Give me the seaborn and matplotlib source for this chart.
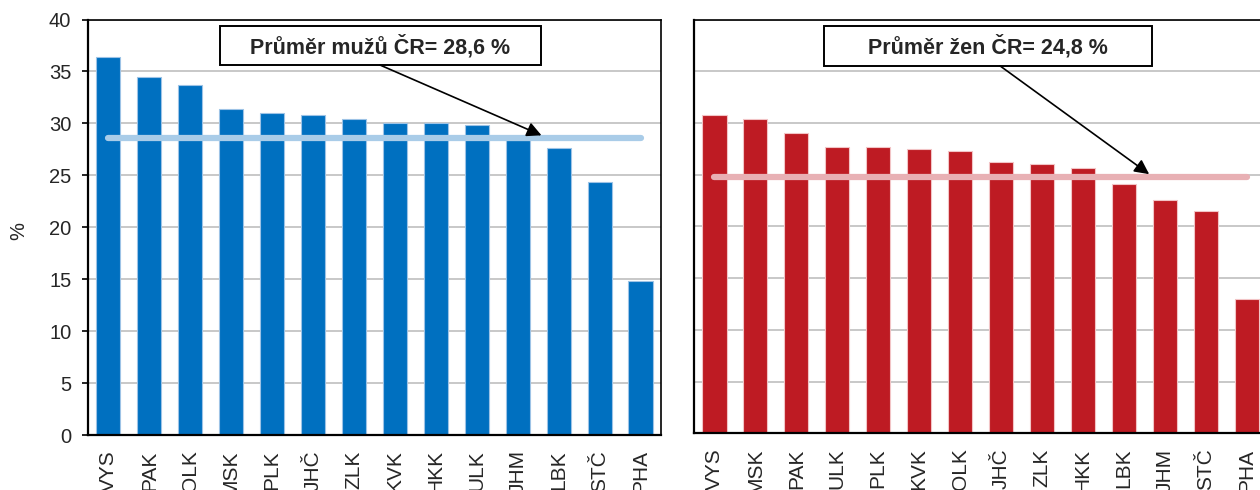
import matplotlib

matplotlib.use("Agg")
import matplotlib.pyplot as plt
import seaborn as sns
from matplotlib.patches import Rectangle

men_regions = ["VYS", "PAK", "OLK", "MSK", "PLK", "JHČ", "ZLK", "KVK", "HKK", "ULK", "JHM", "LBK", "STČ", "PHA"]
men_values = [36.4, 34.5, 33.7, 31.4, 31.0, 30.8, 30.4, 30.0, 30.0, 29.8, 28.4, 27.6, 24.4, 14.8]
men_avg = 28.6

women_regions = ["VYS", "MSK", "PAK", "ULK", "PLK", "KVK", "OLK", "JHČ", "ZLK", "HKK", "LBK", "JHM", "STČ", "PHA"]
women_values = [30.8, 30.4, 29.0, 27.7, 27.7, 27.5, 27.3, 26.2, 26.0, 25.6, 24.1, 22.6, 21.5, 13.0]
women_avg = 24.8

y_ticks = [0, 5, 10, 15, 20, 25, 30, 35, 40]

sns.set_style("white")
plt.rcParams["font.family"] = ["Liberation Sans", "DejaVu Sans"]


def draw_panel(ax, regions, values, avg, bar_color, edge_color, line_color, label, box, arrow_from, arrow_dx, show_y):
    sns.barplot(x=regions, y=values, color=bar_color, saturation=1, width=0.59,
                edgecolor=edge_color, linewidth=0.8, ax=ax)
    ax.set_ylim(0, 40)
    ax.set_yticks(y_ticks)
    ax.set_xlim(-0.5, len(regions) - 0.5)
    ax.set_axisbelow(True)
    ax.yaxis.grid(True, color="#BFBFBF", linewidth=1.2)
    ax.xaxis.grid(False)

    # average line
    ax.hlines(avg, 0, len(regions) - 1, color=line_color, linewidth=4.5,
              capstyle="round", zorder=3)

    # category ticks between bars
    ax.set_xticks([i + 0.5 for i in range(-1, len(regions))], minor=True)
    ax.tick_params(axis="x", which="major", length=0, pad=11, labelsize=15, labelrotation=90)
    ax.tick_params(axis="x", which="minor", length=5, width=1.2, color="black", direction="out")
    if show_y:
        ax.tick_params(axis="y", length=4, width=1.2, color="black", direction="out",
                       pad=8, labelsize=14.5, left=True)
        ax.set_ylabel("%", fontsize=14.5)
        ax.yaxis.set_label_coords(-0.105, 0.49)
    else:
        ax.tick_params(axis="y", length=0, labelleft=False)
        ax.set_ylabel("")
    ax.set_xlabel("")

    for side in ["left", "bottom"]:
        ax.spines[side].set_color("black")
        ax.spines[side].set_linewidth(1.6)
    for side in ["top", "right"]:
        ax.spines[side].set_color("black")
        ax.spines[side].set_linewidth(1.2)

    # annotation box with arrow
    x0, y0, x1, y1 = box
    ax.add_patch(Rectangle((x0, y0), x1 - x0, y1 - y0, transform=ax.transAxes,
                           facecolor="white", edgecolor="black", linewidth=1.4,
                           zorder=5, clip_on=False))
    ax.text((x0 + x1) / 2, (y0 + y1) / 2 - 0.003, label, transform=ax.transAxes,
            ha="center", va="center", fontsize=15.5, fontweight="bold", zorder=6)
    ax.annotate("", xy=(arrow_dx, avg + 0.25), xycoords="data",
                xytext=(arrow_from, y0), textcoords="axes fraction",
                arrowprops=dict(arrowstyle="-|>", color="black", lw=1.2,
                                mutation_scale=22, shrinkA=0, shrinkB=0),
                zorder=6)


fig = plt.figure(figsize=(12.6, 4.9), dpi=100)
ax_men = fig.add_axes([0.0698, 0.1122, 0.4548, 0.848])
ax_women = fig.add_axes([0.5508, 0.1157, 0.4548, 0.8445])

draw_panel(ax_men, men_regions, men_values, men_avg, "#0070C0", "#9DC3E6", "#A9CCE8",
           "Průměr mužů ČR= 28,6 %", (0.2304, 0.8905, 0.7906, 0.985), 0.5096, 10.58, True)
draw_panel(ax_women, women_regions, women_values, women_avg, "#BE1B23", "#F2C4C6", "#E8B0B4",
           "Průměr žen ČR= 24,8 %", (0.2269, 0.888, 0.7993, 0.985), 0.534, 10.62, False)

fig.savefig("out.png", dpi=100)
